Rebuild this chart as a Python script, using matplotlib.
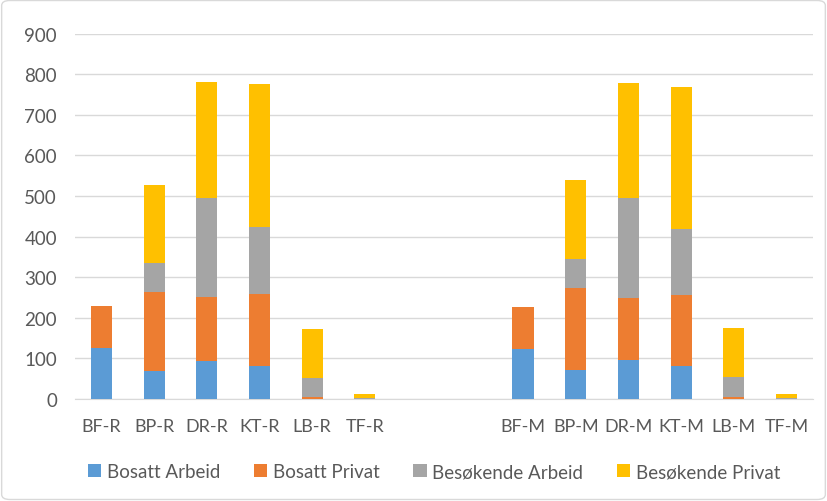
import numpy as np
import matplotlib.pyplot as plt
from matplotlib.patches import FancyBboxPatch

# kategorier (to tomme plasser mellom R- og M-gruppen)
kategorier = ['BF-R', 'BP-R', 'DR-R', 'KT-R', 'LB-R', 'TF-R', '', '',
              'BF-M', 'BP-M', 'DR-M', 'KT-M', 'LB-M', 'TF-M']

bosatt_arbeid = [126, 70, 93, 81, 1, 0, 0, 0, 122, 71, 95, 81, 1, 0]
bosatt_privat = [103, 194, 159, 178, 3, 0.5, 0, 0, 105, 202, 153, 174, 3, 0.5]
besok_arbeid = [0, 72, 244, 165, 48, 2, 0, 0, 0, 72, 247, 165, 49, 2]
besok_privat = [0, 191, 286, 351, 120, 10, 0, 0, 0, 194, 283, 348, 122, 10]

serier = ['Bosatt Arbeid', 'Bosatt Privat', 'Besøkende Arbeid', 'Besøkende Privat']
farger = ['#5b9bd5', '#ed7d31', '#a5a5a5', '#ffc000']

plt.rcParams['font.family'] = ['Lato', 'DejaVu Sans']

fig = plt.figure(figsize=(8.27, 5.02), dpi=100)
ax = fig.add_axes([0.0907, 0.2032, 0.8923, 0.7277])

x = np.arange(len(kategorier))
bunn = np.zeros(len(kategorier))
for navn, verdier, farge in zip(serier, [bosatt_arbeid, bosatt_privat, besok_arbeid, besok_privat], farger):
    v = np.array(verdier, dtype=float)
    ax.bar(x, v, 0.4, bottom=bunn, color=farge, label=navn, zorder=3)
    bunn += v

ax.set_xlim(-0.5, len(kategorier) - 0.5)
ax.set_ylim(0, 900)
ax.set_yticks(range(0, 901, 100))
ax.set_xticks(x)
ax.set_xticklabels(kategorier)
ax.grid(axis='y', color='#d9d9d9', linewidth=1, zorder=0)
for s in ['top', 'right', 'left']:
    ax.spines[s].set_visible(False)
ax.spines['bottom'].set_color('#d9d9d9')
ax.tick_params(length=0, labelsize=13, colors='#595959', pad=14)
ax.tick_params(axis='y', labelsize=13.5, pad=13)

fig.legend(loc='center', bbox_to_anchor=(0.525, 0.058), ncol=4, frameon=False,
           fontsize=13.5, handlelength=0.7, handleheight=0.7, handletextpad=0.3,
           columnspacing=1.8, labelcolor='#595959')

fig.patches.append(FancyBboxPatch((0.002, 0.003), 0.996, 0.994,
                                  boxstyle='round,pad=0,rounding_size=0.01',
                                  transform=fig.transFigure, fill=False,
                                  edgecolor='#d9d9d9', linewidth=1))

fig.savefig('out.png', dpi=100)
